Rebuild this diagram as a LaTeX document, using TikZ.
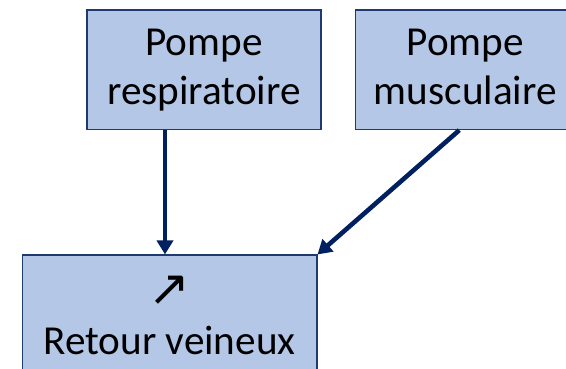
\documentclass[tikz,border=0pt]{standalone}
\usepackage{fontspec}
\setmainfont{Carlito}
\newfontfamily\symfont{DejaVu Sans}
\usetikzlibrary{arrows.meta}
\definecolor{boxfill}{HTML}{B4C7E7}
\definecolor{boxline}{HTML}{1F3A6E}
\definecolor{arrowcol}{HTML}{002060}
\newcommand\topstrut{\rule{0pt}{34pt}}
\newcommand\botstrut[1]{\rule[-#1]{0pt}{1pt}}
\tikzset{
  pumpbox/.style={draw=boxline, fill=boxfill, line width=1.6pt, rectangle,
    align=center, inner sep=0pt, text=black,
    font=\fontsize{41.2}{49}\selectfont},
  flowarrow/.style={draw=arrowcol, line width=4.6pt,
    -{Triangle[width=16pt,length=14pt]}}
}
\begin{document}
\begin{tikzpicture}[x=1pt,y=-1pt]
\useasboundingbox (0,0) rectangle (566,369);
\fill[white] (0,0) rectangle (566,369);
\clip (0,0) rectangle (566,369);
\node[pumpbox, minimum width=234.3pt, minimum height=119.3pt] (resp) at (203.9,69.7) {\topstrut Pompe\\respiratoire\botstrut{12.4pt}};
\node[pumpbox, minimum width=220pt, minimum height=119.3pt] (musc) at (465.3,69.7) {\topstrut Pompe\\musculaire\botstrut{12.4pt}};
\node[pumpbox, minimum width=294.4pt, minimum height=118.5pt] (retour) at (169.5,314.5) {\topstrut{\symfont\fontsize{50}{49}\selectfont ↗}\\Retour veineux\botstrut{3pt}};
\coordinate (vx) at (165,0);
\draw[flowarrow] (vx |- resp.south) -- (vx |- retour.north);
\draw[flowarrow] ([xshift=-6pt]musc.south) -- (retour.north east);
\end{tikzpicture}
\end{document}
